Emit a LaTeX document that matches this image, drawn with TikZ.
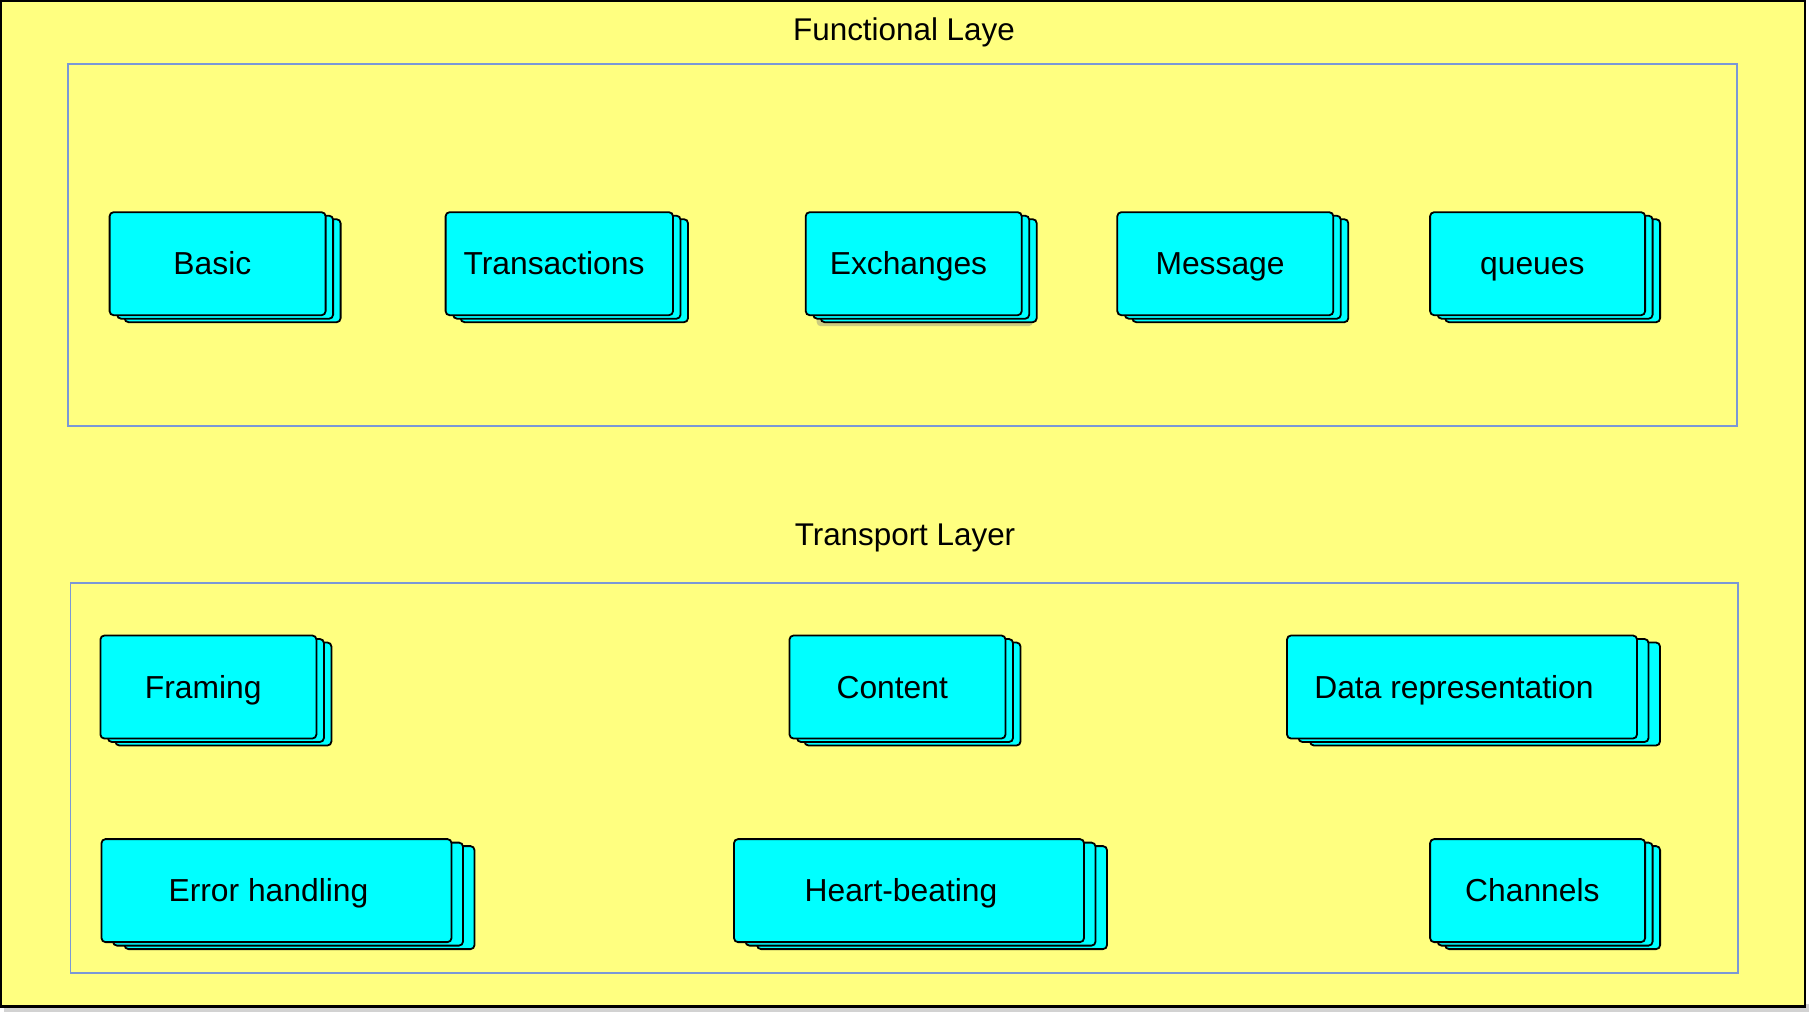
\documentclass[tikz,border=0pt]{standalone}
\usepackage{fontspec}
\setmainfont{Liberation Sans}
\usepackage{tikz}
\usetikzlibrary{calc,positioning,shadows}
\definecolor{padyellow}{RGB}{255,255,128}
\definecolor{cardcyan}{RGB}{0,255,255}
\definecolor{layerblue}{RGB}{122,152,214}
\tikzset{
  outerframe/.style={draw=black,line width=1.2pt,fill=padyellow},
  layerbox/.style={draw=layerblue,line width=0.7pt},
  card/.style={draw,line width=0.9pt,fill=cardcyan,rounded corners=2pt,
    minimum height=51.5pt,inner sep=0pt},
  cardlabel/.style={font=\fontsize{15.9}{18}\selectfont,anchor=base,inner sep=0pt},
  layertitle/.style={font=\fontsize{15.7}{18}\selectfont,anchor=base,inner sep=0pt},
  flat/.style={},
  shady/.style={drop shadow={shadow xshift=-2pt,shadow yshift=-2pt,opacity=0.4}}
}

\begin{document}
\begin{tikzpicture}[x=0.5pt,y=-0.5pt]
  \useasboundingbox (0,0) rectangle (1810,1014);
  % page frame with its shadow
  \fill[gray!35] (4,1004) rectangle (1809,1012);
  \draw[outerframe] (1.2,1.2) rectangle (1805,1006.5);
  % the two layers
  \draw[layerbox] (68,64) rectangle (1737,426);
  \draw[layerbox] (70.4,583) rectangle (1738,973);
  \node[layertitle] (funct) at (904,40.7) {Functional Laye};
  \node[layertitle] (transp) at (905,545.7) {Transport Layer};
  % stacked cards: name/x/y/width/step/style/text
  \foreach \n/\x/\y/\w/\s/\e/\t in {
    basic/217.6/263.7/216/7.5/flat/Basic,
    transactions/559.3/263.7/227.4/7.5/flat/Transactions,
    exchanges/913.7/263.7/216/7.5/shady/Exchanges,
    message/1225.3/263.7/216/7.5/flat/Message,
    queues/1537.6/263.7/215/7.5/flat/queues,
    framing/208.4/687/216/7.5/flat/Framing,
    content/897.5/687/216/7.5/flat/Content,
    datarep/1462/687/350/11.5/flat/Data representation,
    errors/276.5/890.6/350/11.5/flat/Error handling,
    heartbeat/909/890.6/350/11.5/flat/Heart-beating,
    channels/1537.6/890.6/215/7.5/flat/Channels}{
    \node[card,\e,minimum width=\w*0.5pt] (\n-b2) at (\x+2*\s,\y+7) {};
    \node[card,minimum width=\w*0.5pt] (\n-b1) at (\x+\s,\y+3.5) {};
    \node[card,minimum width=\w*0.5pt] (\n) at (\x,\y) {};
    \node[cardlabel] (\n-t) at ([xshift=-0.35*\s pt,yshift=-5.6pt]\n.center) {\t};
  }
\end{tikzpicture}
\end{document}
